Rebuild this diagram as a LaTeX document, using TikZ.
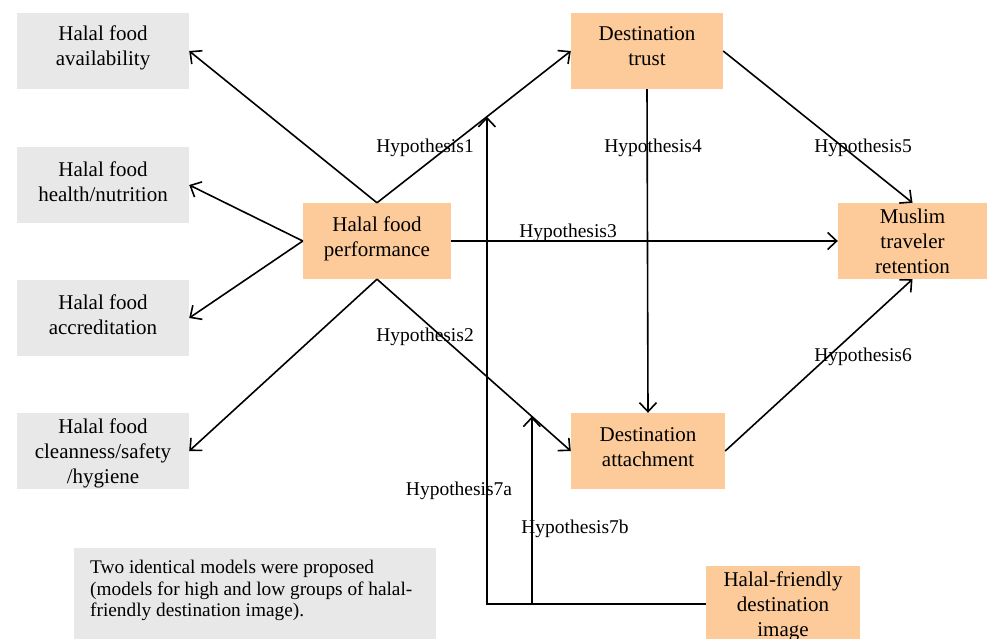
\documentclass[tikz,border=0pt]{standalone}
\usepackage{fontspec}
\setmainfont{Liberation Serif}
\usetikzlibrary{arrows.meta,calc}
\definecolor{greybox}{RGB}{232,232,232}
\definecolor{orangebox}{RGB}{253,203,154}
\tikzset{
  gbox/.style={fill=greybox,draw=none,minimum width=172pt,minimum height=76pt,inner sep=0pt},
  obox/.style={fill=orangebox,draw=none,minimum height=76pt,inner sep=0pt},
  btext/.style={align=center,inner sep=0pt,font=\fontsize{21}{25}\selectfont},
  hyp/.style={inner sep=0pt,font=\fontsize{19.5}{22}\selectfont},
  arr/.style={line width=1.6pt,-{Straight Barb[length=9pt,width=17pt,line width=1.6pt]}},
  ln/.style={line width=1.6pt}
}
\begin{document}
\begin{tikzpicture}[x=1pt,y=-1pt]
\useasboundingbox (0,0) rectangle (987,639);
\fill[white] (0,0) rectangle (987,639);
% grey boxes
\node[gbox] (g1) at (103,51) {};
\node[gbox] (g2) at (103,185) {};
\node[gbox] (g3) at (103,318) {};
\node[gbox] (g4) at (103,451) {};
\node[btext] (g1t) at (103,48) {Halal food\\availability};
\node[btext] (g2t) at (103,182) {Halal food\\health/nutrition};
\node[btext] (g3t) at (103,315) {Halal food\\accreditation};
\node[btext] (g4t) at (103,453) {Halal food\\cleanness/safety\\/hygiene};
% orange boxes
\node[obox,minimum width=148pt] (perf) at (377,241) {};
\node[obox,minimum width=152pt] (trust) at (647,51) {};
\node[obox,minimum width=154pt] (att) at (648,451) {};
\node[obox,minimum width=149pt] (mus) at (912.5,241) {};
\node[obox,minimum width=154pt] (hf) at (783,604) {};
\node[btext] (perft) at (377,239) {Halal food\\performance};
\node[btext] (trustt) at (647,46) {Destination\\trust};
\node[btext] (attt) at (648,447) {Destination\\attachment};
\node[btext] (must) at (912.5,241) {Muslim\\traveler\\retention};
\node[btext] (hft) at (783,606) {Halal-friendly\\destination\\image};
% note
\node[fill=greybox,minimum width=362pt,minimum height=97pt,inner sep=0pt] (note) at (255,596.5) {};
\node[anchor=north west,align=left,inner sep=0pt,font=\fontsize{19.3}{21.5}\selectfont] (notetext) at (90,560)
  {Two identical models were proposed\\(models for high and low groups of halal-\\friendly destination image).};
% arrows to dimensions
\draw[arr] (perf.north) -- (g1.east);
\draw[arr] (perf.west) -- (g2.east);
\draw[arr] (perf.west) -- (g3.east);
\draw[arr] (perf.south) -- (g4.east);
% hypotheses
\draw[arr] (perf.north) -- (trust.west);
\draw[arr] (perf.south) -- (att.west);
\draw[arr] (perf.east) -- (mus.west);
\draw[arr] (trust.south) -- (att.north);
\draw[arr] (trust.east) -- (mus.north);
\draw[arr] (att.east) -- (mus.south);
% moderation
\coordinate (h7a) at ($(perf.north)!0.567!(trust.west)$);
\coordinate (h7b) at ($(perf.south)!0.799!(att.west)$);
\coordinate (h7bfoot) at (h7b |- hf.west);
\draw[arr] (hf.west) -| (h7a);
\draw[arr] (h7bfoot) -- (h7b);
% labels
\node[hyp] (l1) at (425,148) {Hypothesis1};
\node[hyp] (l2) at (425,337) {Hypothesis2};
\node[hyp] (l3) at (568,233) {Hypothesis3};
\node[hyp] (l4) at (653,148) {Hypothesis4};
\node[hyp] (l5) at (863,148) {Hypothesis5};
\node[hyp] (l6) at (863,357) {Hypothesis6};
\node[hyp] (l7a) at (459,491) {Hypothesis7a};
\node[hyp] (l7b) at (575,529) {Hypothesis7b};
\end{tikzpicture}
\end{document}
